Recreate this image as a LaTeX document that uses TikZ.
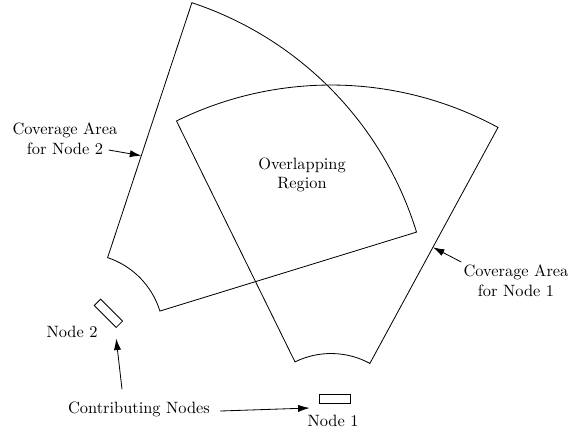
\documentclass[tikz,border=0pt]{standalone}
\usetikzlibrary{arrows.meta,calc}
\begin{document}
\begin{tikzpicture}[x=0.61pt,y=-0.61pt,
  region/.style={draw=black, line width=0.5pt, line join=miter},
  device/.style={draw=black, line width=0.5pt, rectangle, inner sep=0pt,
                 minimum width=18.9pt, minimum height=5.5pt},
  caption/.style={align=center, inner sep=0pt, font=\normalsize},
  pointer/.style={-{Latex[length=7pt,width=4.4pt]}, line width=0.5pt}]
\useasboundingbox (0,0) rectangle (570,432);

% centres of the two coverage sectors
\coordinate (c1) at (331,435);
\coordinate (c2) at (82,335);

% corners of the sectors: outer left/right, inner left/right
\coordinate (s1ol) at ($(c1)+(-116.2:350)$);
\coordinate (s1or) at ($(c1)+(-61.5:350)$);
\coordinate (s1ir) at ($(c1)+(-61.5:81.5)$);
\coordinate (s2ol) at ($(c2)+(-71.7:350)$);
\coordinate (s2or) at ($(c2)+(-17.1:350)$);
\coordinate (s2il) at ($(c2)+(-71.7:81.5)$);

% coverage sector of node 1
\draw[region] (s1ol) arc[start angle=-116.2, end angle=-61.5, radius=350]
  -- (s1ir) arc[start angle=-61.5, end angle=-116.2, radius=81.5] -- cycle;

% coverage sector of node 2
\draw[region] (s2ol) arc[start angle=-71.7, end angle=-17.1, radius=350]
  -- ($(c2)+(-17.1:81.5)$) arc[start angle=-17.1, end angle=-71.7, radius=81.5] -- cycle;

% points on the sector edges that the labels point at
\coordinate (e1) at ($(s1or)!0.508!(s1ir)$);
\coordinate (e2) at ($(s2ol)!0.6!(s2il)$);

% the contributing nodes
\node[device] (n1) at (334.5,398.5) {};
\node[device, rotate=-45] (n2) at (108.4,313.3) {};

\node[caption] (n1lbl) at (333,421) {Node 1};
\node[caption] (n2lbl) at (72,332) {Node 2};

\node[caption] (overlap) at (302,175) {Overlapping\\Region};
\node[caption] (cov2) at (65,139) {Coverage Area\\for Node 2};
\node[caption] (cov1) at (516,281) {Coverage Area\\for Node 1};
\node[caption] (contrib) at (139,409) {Contributing Nodes};

% pointers
\draw[pointer] ([shift={(-9,11)}]cov2.east) -- (e2);
\draw[pointer] ([shift={(-2,-19)}]cov1.west) -- (e1);
\draw[pointer] ([shift={(10,2)}]contrib.east) -- ([shift={(-9,9.5)}]n1.west);
\draw[pointer] ([shift={(-17,-12)}]contrib.north) -- ([shift={(0,10.5)}]n2.south east);
\end{tikzpicture}
\end{document}
